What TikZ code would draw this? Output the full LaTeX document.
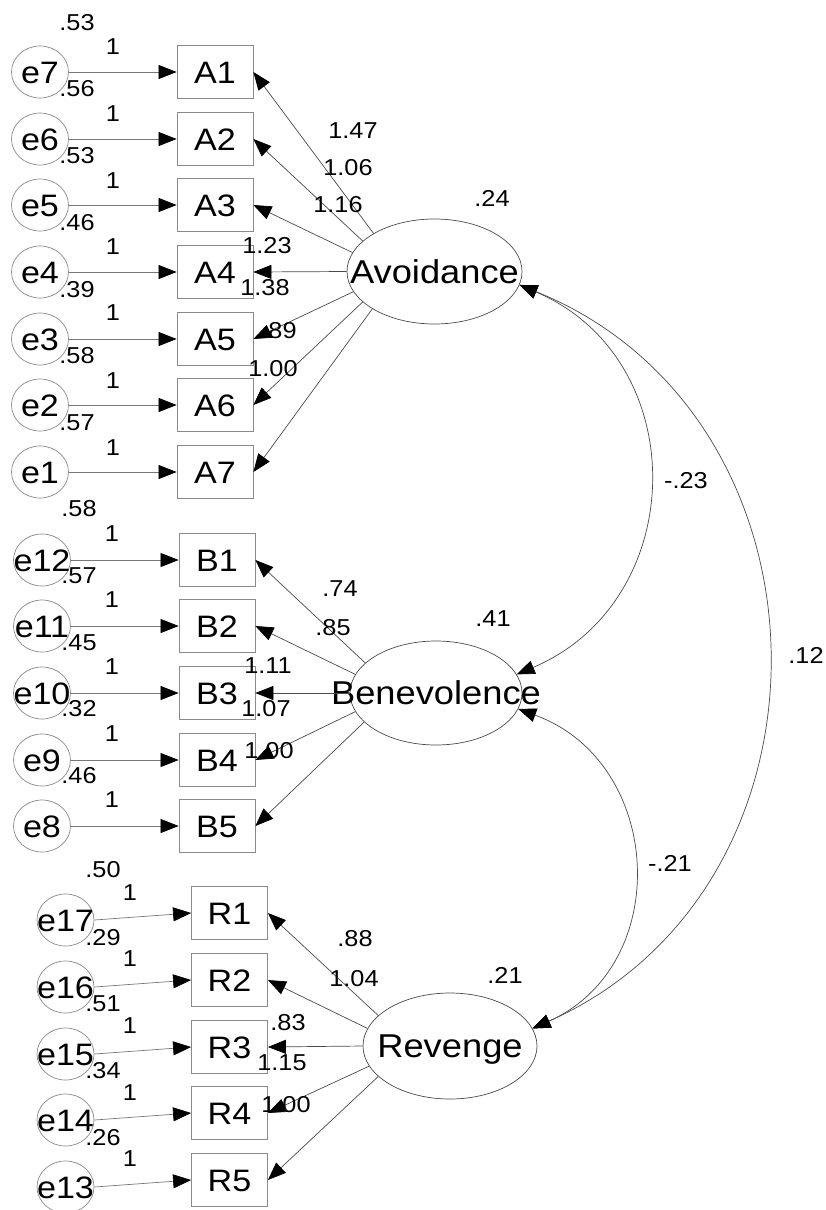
\documentclass[tikz,border=0pt]{standalone}
\usepackage{fontspec}
\setmainfont[FakeStretch=1.1]{Liberation Sans}
\usetikzlibrary{arrows.meta,shapes.geometric}
\definecolor{bord}{HTML}{8A8A8A}
\definecolor{ln}{HTML}{4A4A4A}
\definecolor{eln}{HTML}{777777}
\begin{document}
\begin{tikzpicture}[x=1pt,y=-1pt,
  obs/.style={draw=bord,line width=0.8pt,minimum width=76pt,minimum height=53pt,inner sep=0pt,
    font=\fontsize{31}{31}\selectfont,text height=22pt,text depth=0pt},
  errc/.style={ellipse,draw=bord,line width=0.7pt,minimum width=57pt,minimum height=52pt,inner sep=0pt},
  lat/.style={ellipse,draw=ln,line width=0.7pt,minimum width=175pt,minimum height=105pt,inner sep=0pt},
  bigt/.style={inner sep=0pt,font=\fontsize{31}{31}\selectfont,text height=22pt,text depth=0pt},
  latt/.style={inner sep=0pt,font=\fontsize{33}{33}\selectfont,text height=23.6pt,text depth=0pt},
  sm/.style={inner sep=0pt,font=\fontsize{23}{23}\selectfont,text height=16.5pt,text depth=0pt},
  tipb/.tip={Triangle[length=18pt,width=14pt,color=black]},
  earr/.style={draw=eln,line width=0.7pt,-tipb},
  larr/.style={draw=ln,line width=0.7pt,-tipb},
  cov/.style={draw=ln,line width=0.7pt,tipb-tipb}]
\useasboundingbox (0,0) rectangle (826,1210);

% ---------- latent variables ----------
\node[lat] (Av) at (434.5,271.5) {};
\node[latt] (Avt) at (Av) {Avoidance};
\node[lat,minimum width=172pt,minimum height=104pt] (Bn) at (436,693) {};
\node[latt] (Bnt) at (Bn) {Benevolence};
\node[lat,minimum width=174pt,minimum height=106pt] (Rv) at (450,1046) {};
\node[latt] (Rvt) at (Rv) {Revenge};
\node[sm] (vAv) at (492,198) {.24};
\node[sm] (vBn) at (493,618) {.41};
\node[sm] (vRv) at (505,975) {.21};

% ---------- Avoidance items ----------
\node[obs] (A1) at (215,72) {A1};
\node[obs] (A2) at (215,139) {A2};
\node[obs] (A3) at (215,205) {A3};
\node[obs] (A4) at (215,272) {A4};
\node[obs] (A5) at (215,339) {A5};
\node[obs] (A6) at (215,405) {A6};
\node[obs] (A7) at (215,472) {A7};

\node[errc] (e7) at (40,72) {};  \node[bigt] (e7t) at (e7) {e7};
\node[errc] (e6) at (40,139) {}; \node[bigt] (e6t) at (e6) {e6};
\node[errc] (e5) at (40,205) {}; \node[bigt] (e5t) at (e5) {e5};
\node[errc] (e4) at (40,272) {}; \node[bigt] (e4t) at (e4) {e4};
\node[errc] (e3) at (40,339) {}; \node[bigt] (e3t) at (e3) {e3};
\node[errc] (e2) at (40,405) {}; \node[bigt] (e2t) at (e2) {e2};
\node[errc] (e1) at (40,472) {}; \node[bigt] (e1t) at (e1) {e1};

\node[sm] (v7) at (77,22) {.53};  \node[sm] (w7) at (113,46) {1};
\node[sm] (v6) at (77,88) {.56};  \node[sm] (w6) at (113,113) {1};
\node[sm] (v5) at (77,155) {.53}; \node[sm] (w5) at (113,180) {1};
\node[sm] (v4) at (77,222) {.46}; \node[sm] (w4) at (113,246) {1};
\node[sm] (v3) at (77,289) {.39}; \node[sm] (w3) at (113,312) {1};
\node[sm] (v2) at (77,355) {.58}; \node[sm] (w2) at (113,380) {1};
\node[sm] (v1) at (77,422) {.57}; \node[sm] (w1) at (113,447) {1};

\draw[earr] (e7) -- (A1);
\draw[earr] (e6) -- (A2);
\draw[earr] (e5) -- (A3);
\draw[earr] (e4) -- (A4);
\draw[earr] (e3) -- (A5);
\draw[earr] (e2) -- (A6);
\draw[earr] (e1) -- (A7);

\draw[larr] (Av.148) -- (A1.east);
\draw[larr] (Av.157) -- (A2.east);
\draw[larr] (Av.167) -- (A3.east);
\draw[larr] (Av.180) -- (A4.east);
\draw[larr] (Av.194) -- (A5.east);
\draw[larr] (Av.203.5) -- (A6.east);
\draw[larr] (Av.211.5) -- (A7.east);

\node[sm] (lA1) at (353,130) {1.47};
\node[sm] (lA2) at (348,167) {1.06};
\node[sm] (lA3) at (338,204) {1.16};
\node[sm] (lA4) at (267,245) {1.23};
\node[sm] (lA5) at (265,287) {1.38};
\node[sm] (lA6) at (279,330) {.89};
\node[sm] (lA7) at (273,368) {1.00};

% ---------- Benevolence items ----------
\node[obs] (B1) at (217,560) {B1};
\node[obs] (B2) at (217,626) {B2};
\node[obs] (B3) at (217,693) {B3};
\node[obs] (B4) at (217,760) {B4};
\node[obs] (B5) at (217,826) {B5};

\node[errc] (e12) at (42,560) {}; \node[bigt] (e12t) at (e12) {e12};
\node[errc] (e11) at (42,626) {}; \node[bigt] (e11t) at (e11) {e11};
\node[errc] (e10) at (42,693) {}; \node[bigt] (e10t) at (e10) {e10};
\node[errc] (e9) at (42,760) {};  \node[bigt] (e9t) at (e9) {e9};
\node[errc] (e8) at (42,826) {};  \node[bigt] (e8t) at (e8) {e8};

\node[sm] (v12) at (79,508) {.58}; \node[sm] (w12) at (112,533) {1};
\node[sm] (v11) at (79,575) {.57}; \node[sm] (w11) at (112,599) {1};
\node[sm] (v10) at (79,642) {.45}; \node[sm] (w10) at (112,666) {1};
\node[sm] (v9) at (79,708) {.32};  \node[sm] (w9) at (112,733) {1};
\node[sm] (v8) at (79,775) {.46};  \node[sm] (w8) at (112,799) {1};

\draw[earr] (e12) -- (B1);
\draw[earr] (e11) -- (B2);
\draw[earr] (e10) -- (B3);
\draw[earr] (e9) -- (B4);
\draw[earr] (e8) -- (B5);

\draw[larr] (Bn.157) -- (B1.east);
\draw[larr] (Bn.167) -- (B2.east);
\draw[larr] (Bn.180) -- (B3.east);
\draw[larr] (Bn.193) -- (B4.east);
\draw[larr] (Bn.202) -- (B5.east);

\node[sm] (lB1) at (340,588) {.74};
\node[sm] (lB2) at (333,627) {.85};
\node[sm] (lB3) at (268,665) {1.11};
\node[sm] (lB4) at (266,708) {1.07};
\node[sm] (lB5) at (269,750) {1.00};

% ---------- Revenge items ----------
\node[obs] (R1) at (229.5,913) {R1};
\node[obs] (R2) at (229.5,980) {R2};
\node[obs] (R3) at (229.5,1047) {R3};
\node[obs] (R4) at (229.5,1113) {R4};
\node[obs] (R5) at (229.5,1180) {R5};

\node[errc] (e17) at (65.5,920) {};  \node[bigt] (e17t) at (e17) {e17};
\node[errc] (e16) at (65.5,987) {};  \node[bigt] (e16t) at (e16) {e16};
\node[errc] (e15) at (65.5,1054) {}; \node[bigt] (e15t) at (e15) {e15};
\node[errc] (e14) at (65.5,1120) {}; \node[bigt] (e14t) at (e14) {e14};
\node[errc] (e13) at (65.5,1187) {}; \node[bigt] (e13t) at (e13) {e13};

\node[sm] (v17) at (103,869) {.50};  \node[sm] (w17) at (130,892) {1};
\node[sm] (v16) at (103,937) {.29};  \node[sm] (w16) at (130,958) {1};
\node[sm] (v15) at (103,1003) {.51}; \node[sm] (w15) at (130,1025) {1};
\node[sm] (v14) at (103,1070) {.34}; \node[sm] (w14) at (130,1092) {1};
\node[sm] (v13) at (103,1137) {.26}; \node[sm] (w13) at (130,1158) {1};

\draw[earr] (e17.east) -- (R1.west);
\draw[earr] (e16.east) -- (R2.west);
\draw[earr] (e15.east) -- (R3.west);
\draw[earr] (e14.east) -- (R4.west);
\draw[earr] (e13.east) -- (R5.west);

\draw[larr] (Rv.157.7) -- (R1.east);
\draw[larr] (Rv.168) -- (R2.east);
\draw[larr] (Rv.180) -- (R3.east);
\draw[larr] (Rv.194) -- (R4.east);
\draw[larr] (Rv.203) -- (R5.east);

\node[sm] (lR1) at (355,938) {.88};
\node[sm] (lR2) at (354,978) {1.04};
\node[sm] (lR3) at (288,1022) {.83};
\node[sm] (lR4) at (282,1062) {1.15};
\node[sm] (lR5) at (286,1104) {1.00};

% ---------- covariances ----------
\draw[cov] (Av.-9) to[out=-23,in=23,looseness=1.24] (Bn.13);
\draw[cov] (Bn.-11) to[out=-20,in=24,looseness=1.24] (Rv.12);
\draw[cov] (Av.-9) to[out=-22,in=24,looseness=1.2] (Rv.12);
\node[sm] (c1) at (686,480) {-.23};
\node[sm] (c2) at (670,863) {-.21};
\node[sm] (c3) at (806,655) {.12};
\end{tikzpicture}
\end{document}
